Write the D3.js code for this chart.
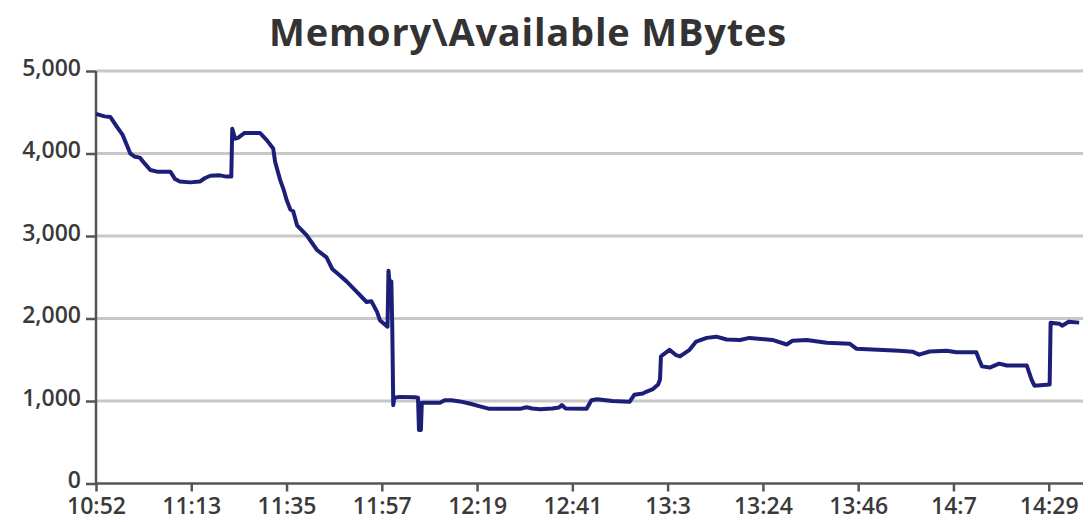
<!DOCTYPE html>
<html lang="en">
<head>
<meta charset="utf-8">
<title>Memory\Available MBytes</title>
<script src="https://cdn.jsdelivr.net/npm/d3@7"></script>
<style>
  body { margin: 0; background: #fff; }
  text { font-family: "Open Sans", "DejaVu Sans", sans-serif; fill: #3a3a3a; }
</style>
</head>
<body>
<script>
// sample index (one tick every 100 samples) and MBytes
var sampleIdx = [0, 9, 15, 22, 28, 36, 41, 46, 51, 57, 64, 78, 83, 88, 99, 109, 114, 120, 130, 137, 142,
  143, 146, 149, 156, 172, 179, 186, 188, 193, 197, 200, 204, 207, 211, 221, 232, 242, 248, 256, 263,
  274, 284, 289, 295, 298, 305, 306, 307, 309, 310, 311, 312, 313, 319, 335, 338, 339, 341, 342, 361,
  366, 373, 382, 392, 403, 413, 445, 452, 458, 466, 479, 486, 489, 493, 515, 520, 526, 542, 560, 565,
  574, 578, 584, 590, 592, 593, 595, 602, 609, 613, 623, 630, 641, 651, 662, 676, 686, 710, 725, 731,
  746, 767, 791, 798, 815, 843, 857, 864, 875, 893, 903, 924, 927, 930, 938, 948, 956, 977, 982, 985,
  1001, 1002, 1011, 1014, 1021, 1032];
var mbytes = [4480, 4450, 4443, 4322, 4225, 4000, 3960, 3950, 3880, 3800, 3780, 3780, 3690, 3660, 3650, 3660, 3700, 3730, 3735, 3720, 3720,
  4300, 4180, 4190, 4250, 4250, 4165, 4060, 3900, 3690, 3560, 3440, 3320, 3300, 3130, 3010, 2830, 2740, 2600, 2520, 2450,
  2320, 2200, 2210, 2080, 1980, 1910, 1900, 2580, 2300, 2450, 1870, 950, 1040, 1050, 1045, 1040, 650, 650, 980, 980,
  1010, 1010, 995, 970, 935, 905, 905, 925, 910, 900, 910, 920, 950, 910, 905, 1010, 1020, 1000, 990, 1075,
  1090, 1115, 1140, 1200, 1260, 1540, 1560, 1620, 1555, 1540, 1620, 1720, 1765, 1780, 1745, 1740, 1765, 1740, 1685, 1730,
  1740, 1705, 1695, 1634, 1625, 1610, 1598, 1562, 1600, 1610, 1590, 1590, 1500, 1420, 1405, 1453, 1430, 1430, 1260, 1186,
  1199, 1949, 1937, 1913, 1961, 1950];

var tickLabels = ["10:52", "11:13", "11:35", "11:57", "12:19", "12:41", "13:3", "13:24", "13:46", "14:7", "14:29"];
var tickIdx = [0, 100, 200, 300, 400, 500, 600, 700, 800, 900, 1000];
var yTicks = [0, 1000, 2000, 3000, 4000, 5000];

var data = sampleIdx.map(function(s, i) { return {s: s, v: mbytes[i]}; });

var w = 1088, h = 522;
var plotLeft = 96, plotRight = 1083, plotTop = 71, plotBottom = 483.5;

var svg = d3.select("body").append("svg")
  .attr("width", w)
  .attr("height", h);

var x = d3.scaleLinear().domain([0, 1036]).range([plotLeft, plotRight]);
var y = d3.scaleLinear().domain([0, 5000]).range([plotBottom, plotTop]);

// title
svg.append("text")
  .attr("x", 528)
  .attr("y", 46)
  .attr("text-anchor", "middle")
  .style("font-size", "38px")
  .style("font-weight", "700")
  .style("letter-spacing", "0.8px")
  .style("fill", "#333")
  .text("Memory\\Available MBytes");

// gridlines
svg.append("g")
  .selectAll("line")
  .data(yTicks.filter(function(d) { return d > 0; }))
  .enter()
  .append("line")
  .attr("x1", plotLeft)
  .attr("x2", plotRight)
  .attr("y1", function(d) { return y(d); })
  .attr("y2", function(d) { return y(d); })
  .style("stroke", "#c8c8c8")
  .style("stroke-width", 3);

// y axis
var yAxis = svg.append("g")
  .attr("transform", "translate(" + plotLeft + ",0)")
  .call(d3.axisLeft(y).tickValues(yTicks).tickSize(10).tickPadding(5).tickFormat(d3.format(",")));

// x axis
var xAxis = svg.append("g")
  .attr("transform", "translate(0," + plotBottom + ")")
  .call(d3.axisBottom(x).tickValues(tickIdx).tickSize(8).tickPadding(6)
    .tickFormat(function(d, i) { return tickLabels[i]; }));

[yAxis, xAxis].forEach(function(a) {
  a.select(".domain").style("stroke", "#555").style("stroke-width", 2.5);
  a.selectAll(".tick line").style("stroke", "#555").style("stroke-width", 2.5);
  a.selectAll(".tick text")
    .style("font-family", "\"Open Sans\", sans-serif")
    .style("font-size", "23px")
    .style("font-weight", "600")
    .style("fill", "#3a3a3a");
});
// labels sit slightly above their tick, as in the original
yAxis.selectAll(".tick text").attr("y", -3);
yAxis.select(".domain").attr("d", "M0," + plotTop + "V" + plotBottom);
xAxis.select(".domain").attr("d", "M" + plotLeft + ",0H" + plotRight);

// line
var line = d3.line()
  .x(function(d) { return x(d.s); })
  .y(function(d) { return y(d.v); });

svg.append("path")
  .datum(data)
  .attr("d", line)
  .style("fill", "none")
  .style("stroke", "#1c1f78")
  .style("stroke-width", 4)
  .style("stroke-linejoin", "round");
</script>
</body>
</html>
